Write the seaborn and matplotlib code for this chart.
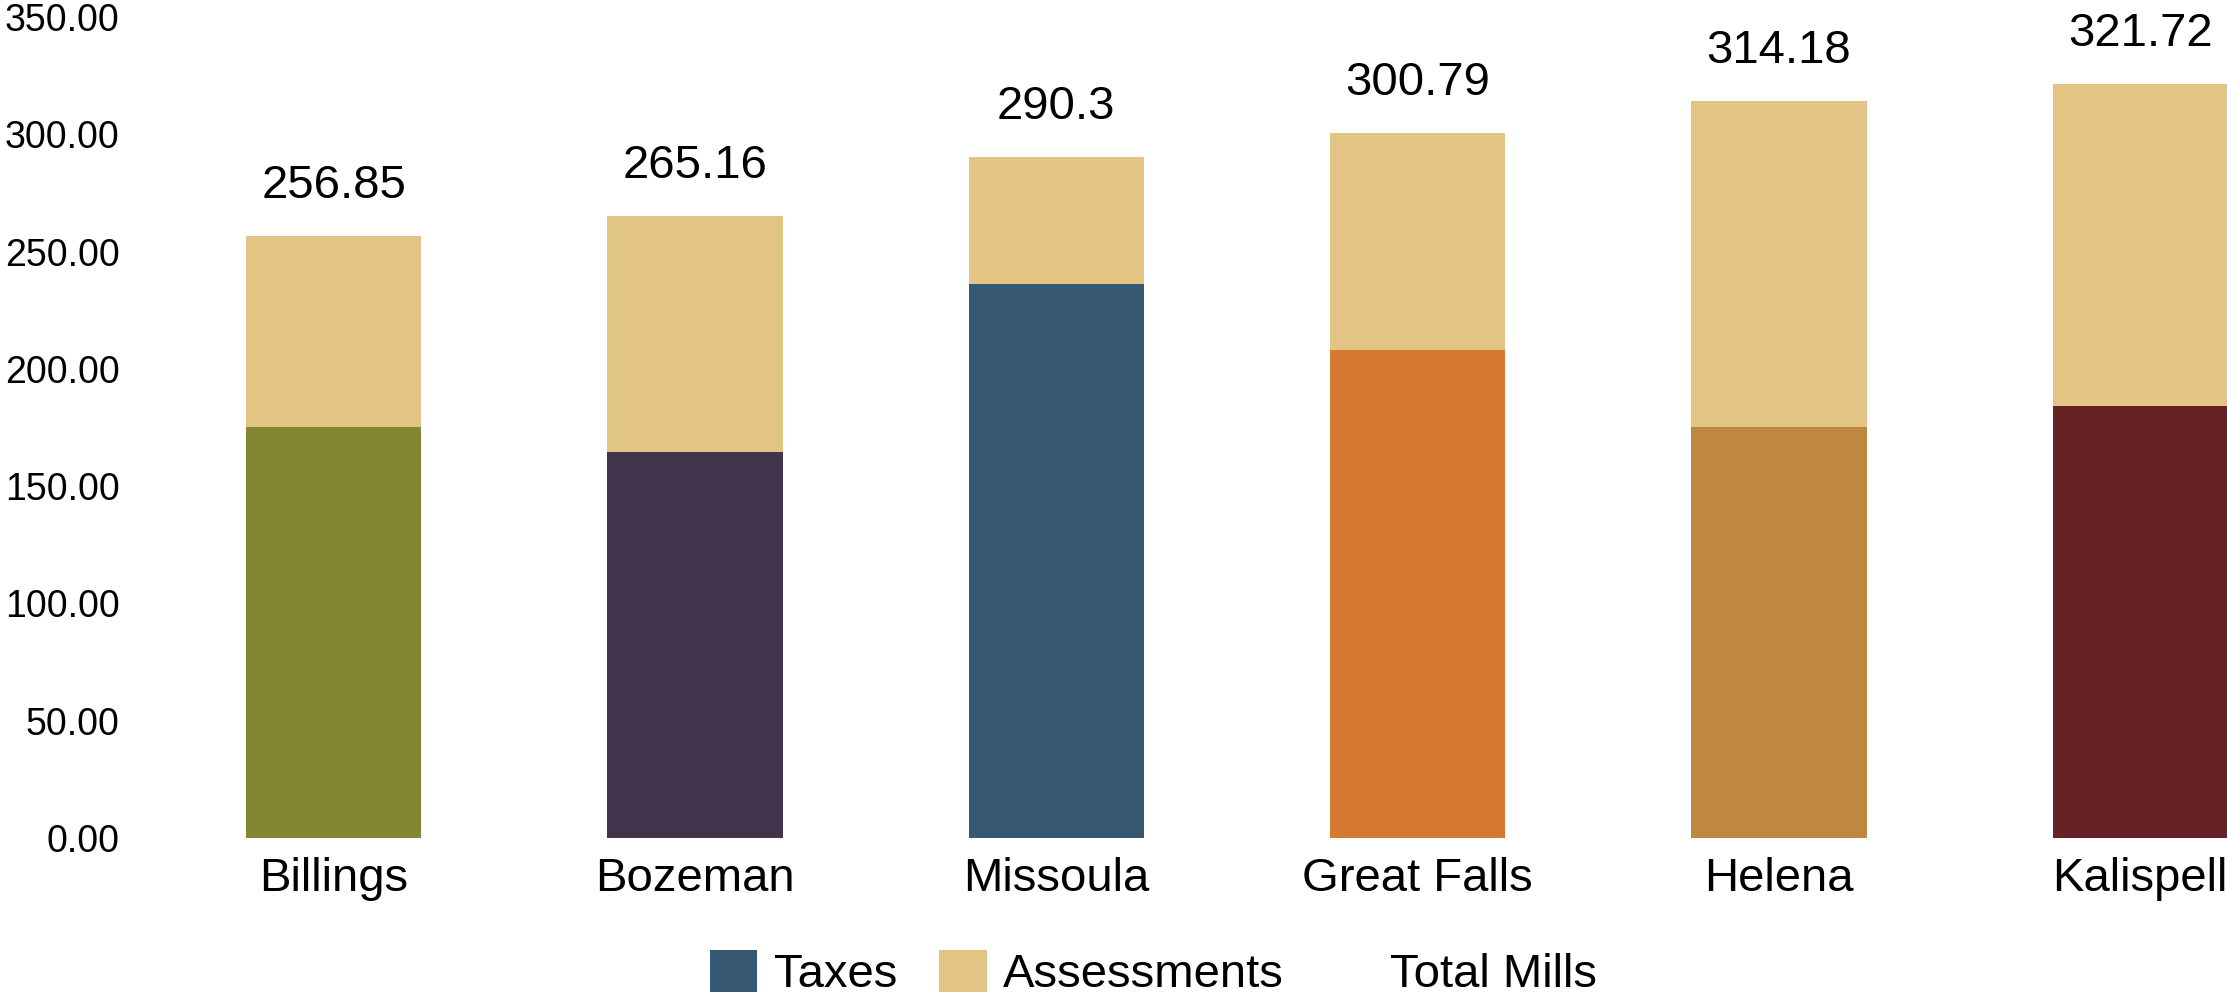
import matplotlib
matplotlib.use("Agg")
import matplotlib.pyplot as plt
from matplotlib.patches import Patch
import seaborn as sns
import pandas as pd

# Chart data
cities = ["Billings", "Bozeman", "Missoula", "Great Falls", "Helena", "Kalispell"]
total_mills = [256.85, 265.16, 290.3, 300.79, 314.18, 321.72]
taxes = [175.0, 164.7, 236.3, 208.2, 175.0, 184.2]
city_colors = ["#848632", "#42344C", "#375872", "#D67A32", "#BE8841", "#652326"]
assess_color = "#E2C484"

df = pd.DataFrame({"City": cities, "Total": total_mills, "Taxes": taxes})

sns.set_style("white")
plt.rcParams["font.family"] = ["Liberation Sans", "DejaVu Sans"]
plt.rcParams["text.color"] = "black"
plt.rcParams["xtick.color"] = "black"
plt.rcParams["ytick.color"] = "black"

fig = plt.figure(figsize=(22.27, 9.97), dpi=100)
ax = fig.add_axes([153 / 2227, 1 - 837.7 / 997, 1 - 153 / 2227, (837.7 - 17.3) / 997])

# Full bar (assessments on top), then taxes drawn over the bottom part
sns.barplot(data=df, x="City", y="Total", color=assess_color, width=0.485,
            saturation=1, linewidth=0, ax=ax)
sns.barplot(data=df, x="City", y="Taxes", hue="City", palette=city_colors,
            width=0.485, saturation=1, linewidth=0, legend=False, ax=ax)

# Total labels above bars
for i, v in enumerate(total_mills):
    ax.annotate(f"{v:g}", (i, v), xytext=(0, 20), textcoords="offset points",
                ha="center", va="bottom", fontsize=34, color="black")

ax.set_xlim(-0.5, 5.24)
ax.set_ylim(0, 350)
ax.set_yticks(range(0, 351, 50))
ax.set_yticklabels([f"{t:.2f}" for t in range(0, 351, 50)])
ax.tick_params(axis="y", length=0, pad=24, labelsize=27, labelcolor="black")
ax.tick_params(axis="x", length=0, pad=14, labelsize=34, labelcolor="black")
ax.set_xlabel("")
ax.set_ylabel("")
sns.despine(ax=ax, left=True, bottom=True)

handles = [Patch(facecolor="#375872", linewidth=0), Patch(facecolor=assess_color, linewidth=0),
           Patch(facecolor="none", edgecolor="none")]
fig.legend(handles, ["Taxes", "Assessments", "Total Mills"], loc="lower center",
           bbox_to_anchor=(0.518, 0.0), ncol=3, frameon=False, fontsize=34,
           handlelength=1, handleheight=1, handletextpad=0.35,
           columnspacing=0.9, borderpad=0, borderaxespad=0, labelcolor="black")

plt.savefig("out.png", dpi=100)
plt.close()
